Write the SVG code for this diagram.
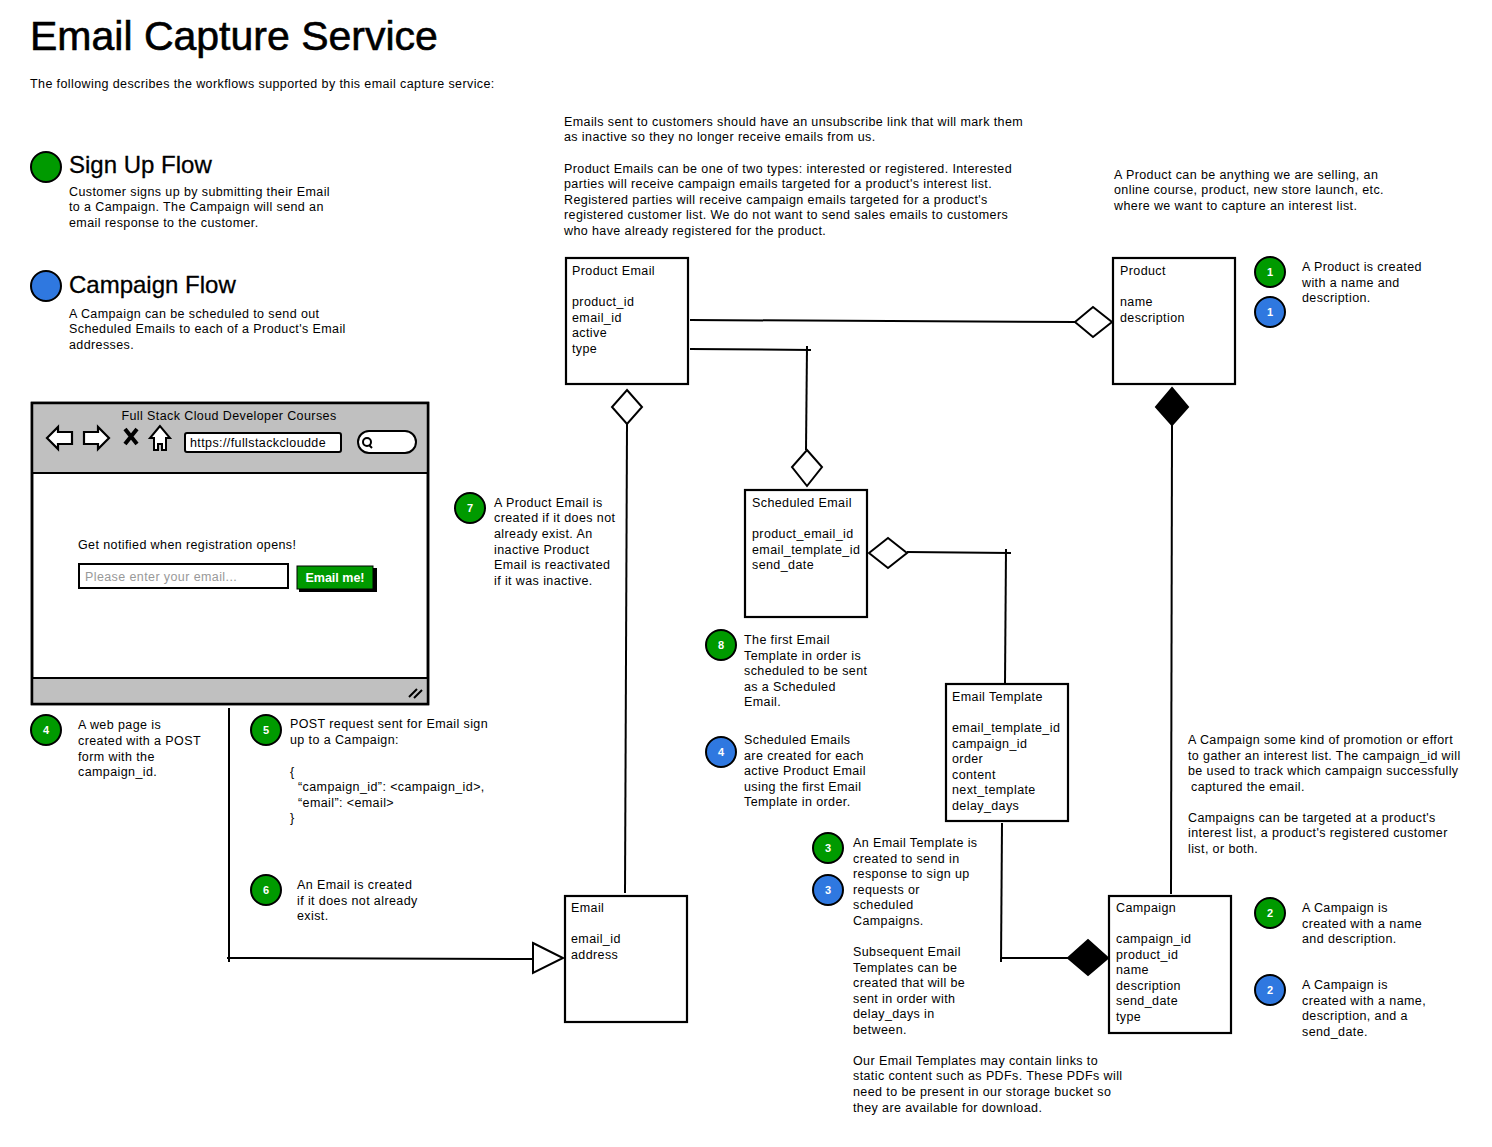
<svg xmlns="http://www.w3.org/2000/svg" width="1492" height="1147" viewBox="0 0 1492 1147">
<style>
.t{font-family:"Liberation Sans",Arial,sans-serif;font-size:12.5px;letter-spacing:0.4px;fill:#000}
.h{font-family:"Liberation Sans",Arial,sans-serif;fill:#000}
.box{fill:#fff;stroke:#000;stroke-width:2.2}
.ln{fill:none;stroke:#000;stroke-width:2}
.dh{fill:#fff;stroke:#000;stroke-width:2}
.df{fill:#000;stroke:#000;stroke-width:2}
.g{fill:#009a00;stroke:#000;stroke-width:2}
.b{fill:#2f78e0;stroke:#000;stroke-width:2}
.n{font-family:"Liberation Sans",Arial,sans-serif;font-size:11px;font-weight:bold;fill:#fff;text-anchor:middle}
</style>
<rect width="1492" height="1147" fill="#fff"/>

<g id="header">
<text class="h" x="30" y="50" font-size="41" stroke="#000" stroke-width="0.6">Email Capture Service</text>
<text class="t" x="30" y="88">The following describes the workflows supported by this email capture service:</text>
</g>

<g id="legend-signup">
<circle class="g" cx="46" cy="167" r="15"/>
<text class="h" x="69" y="173" font-size="24" stroke="#000" stroke-width="0.3">Sign Up Flow</text>
<text class="t"><tspan x="69" y="196">Customer signs up by submitting their Email</tspan><tspan x="69" y="211">to a Campaign. The Campaign will send an</tspan><tspan x="69" y="227">email response to the customer.</tspan></text>
</g>
<g id="legend-campaign">
<circle class="b" cx="46" cy="286" r="15"/>
<text class="h" x="69" y="293" font-size="24" stroke="#000" stroke-width="0.3">Campaign Flow</text>
<text class="t"><tspan x="69" y="318">A Campaign can be scheduled to send out</tspan><tspan x="69" y="333">Scheduled Emails to each of a Product's Email</tspan><tspan x="69" y="349">addresses.</tspan></text>
</g>

<g id="browser">
<rect x="32" y="403" width="396" height="301" fill="#fff" stroke="#000" stroke-width="2.5"/>
<rect x="33" y="404" width="394" height="69" fill="#c0c0c0"/>
<line x1="32" y1="473" x2="428" y2="473" stroke="#000" stroke-width="2"/>
<rect x="33" y="678" width="394" height="25" fill="#c0c0c0"/>
<line x1="32" y1="678" x2="428" y2="678" stroke="#000" stroke-width="2"/>
<rect x="32" y="403" width="396" height="301" fill="none" stroke="#000" stroke-width="2.5"/>
<text class="t" x="229" y="420" text-anchor="middle">Full Stack Cloud Developer Courses</text>
<polygon points="47,438 58,427 58,432 72,432 72,444 58,444 58,449" fill="#fff" stroke="#000" stroke-width="2.2"/>
<polygon points="109,438 98,427 98,432 84,432 84,444 98,444 98,449" fill="#fff" stroke="#000" stroke-width="2.2"/>
<path d="M125,429 L137,444 M137,429 L125,444" stroke="#000" stroke-width="4"/>
<polygon points="160,426 150,438 154,438 154,450 158,450 158,444 162,444 162,450 166,450 166,438 170,438" fill="#fff" stroke="#000" stroke-width="2"/>
<rect x="185" y="433" width="156" height="19" rx="2" fill="#fff" stroke="#000" stroke-width="2"/>
<text class="t" x="190" y="447">https://fullstackcloudde</text>
<rect x="358" y="431" width="58" height="22" rx="11" fill="#fff" stroke="#000" stroke-width="2"/>
<circle cx="367" cy="442" r="4" fill="none" stroke="#000" stroke-width="2"/>
<line x1="369" y1="445" x2="372" y2="448" stroke="#000" stroke-width="2"/>
<text class="t" x="78" y="549">Get notified when registration opens!</text>
<rect x="79" y="564" width="209" height="24" fill="#fff" stroke="#000" stroke-width="2"/>
<text class="t" x="85" y="581" style="fill:#999">Please enter your email...</text>
<rect x="299" y="568" width="78" height="24" fill="#000"/>
<rect x="297" y="566" width="76" height="23" fill="#009a00" stroke="#000" stroke-width="1"/>
<text class="h" x="335" y="582" font-size="12.5" font-weight="bold" text-anchor="middle" style="fill:#fff">Email me!</text>
<path d="M409,697 L417,689 M414,698 L422,690" stroke="#000" stroke-width="2"/>
</g>

<g id="connectors">
<path class="ln" d="M229,708 L229,962"/>
<path class="ln" d="M227,958 L533,959"/>
<polygon class="dh" points="533,943 563,958 533,973"/>
<path class="ln" d="M625,893 L627,424"/>
<polygon class="dh" points="627,390 642,407 627,424 612,407"/>
<path class="ln" d="M690,320 L1075,322"/>
<polygon class="dh" points="1075,322 1093,307 1112,322 1093,337"/>
<path class="ln" d="M690,349 L811,350"/>
<path class="ln" d="M807,346 L806,450"/>
<polygon class="dh" points="807,450 822,467 807,486 792,467"/>
<polygon class="dh" points="869,553 888,538 907,553 888,568"/>
<path class="ln" d="M907,552 L1011,553"/>
<path class="ln" d="M1006,549 L1005,683"/>
<path class="ln" d="M1002,823 L1001,962"/>
<path class="ln" d="M1001,958 L1068,958"/>
<polygon class="df" points="1068,958 1088,940 1108,958 1088,975"/>
<polygon class="df" points="1172,388 1188,407 1172,425 1156,407"/>
<path class="ln" d="M1172,425 L1171,894"/>
</g>

<g id="product-email">
<rect class="box" x="566" y="258" width="122" height="126"/>
<text class="t"><tspan x="572" y="275">Product Email</tspan><tspan x="572" y="306">product_id</tspan><tspan x="572" y="322">email_id</tspan><tspan x="572" y="337">active</tspan><tspan x="572" y="353">type</tspan></text>
</g>
<g id="product">
<rect class="box" x="1113" y="258" width="122" height="126"/>
<text class="t"><tspan x="1120" y="275">Product</tspan><tspan x="1120" y="306">name</tspan><tspan x="1120" y="322">description</tspan></text>
</g>
<g id="scheduled-email">
<rect class="box" x="745" y="490" width="122" height="127"/>
<text class="t"><tspan x="752" y="507">Scheduled Email</tspan><tspan x="752" y="538">product_email_id</tspan><tspan x="752" y="554">email_template_id</tspan><tspan x="752" y="569">send_date</tspan></text>
</g>
<g id="email-template">
<rect class="box" x="946" y="684" width="122" height="137"/>
<text class="t"><tspan x="952" y="701">Email Template</tspan><tspan x="952" y="732">email_template_id</tspan><tspan x="952" y="748">campaign_id</tspan><tspan x="952" y="763">order</tspan><tspan x="952" y="779">content</tspan><tspan x="952" y="794">next_template</tspan><tspan x="952" y="810">delay_days</tspan></text>
</g>
<g id="email">
<rect class="box" x="565" y="896" width="122" height="126"/>
<text class="t"><tspan x="571" y="912">Email</tspan><tspan x="571" y="943">email_id</tspan><tspan x="571" y="959">address</tspan></text>
</g>
<g id="campaign">
<rect class="box" x="1109" y="896" width="122" height="137"/>
<text class="t"><tspan x="1116" y="912">Campaign</tspan><tspan x="1116" y="943">campaign_id</tspan><tspan x="1116" y="959">product_id</tspan><tspan x="1116" y="974">name</tspan><tspan x="1116" y="990">description</tspan><tspan x="1116" y="1005">send_date</tspan><tspan x="1116" y="1021">type</tspan></text>
</g>

<g id="note-unsubscribe">
<text class="t"><tspan x="564" y="126">Emails sent to customers should have an unsubscribe link that will mark them</tspan><tspan x="564" y="141">as inactive so they no longer receive emails from us.</tspan><tspan x="564" y="173">Product Emails can be one of two types: interested or registered. Interested</tspan><tspan x="564" y="188">parties will receive campaign emails targeted for a product's interest list.</tspan><tspan x="564" y="204">Registered parties will receive campaign emails targeted for a product's</tspan><tspan x="564" y="219">registered customer list. We do not want to send sales emails to customers</tspan><tspan x="564" y="235">who have already registered for the product.</tspan></text>
</g>
<g id="note-product">
<text class="t"><tspan x="1114" y="179">A Product can be anything we are selling, an</tspan><tspan x="1114" y="194">online course, product, new store launch, etc.</tspan><tspan x="1114" y="210">where we want to capture an interest list.</tspan></text>
</g>
<g id="note-campaign">
<text class="t"><tspan x="1188" y="744">A Campaign some kind of promotion or effort</tspan><tspan x="1188" y="760">to gather an interest list. The campaign_id will</tspan><tspan x="1188" y="775">be used to track which campaign successfully</tspan><tspan x="1191" y="791">captured the email.</tspan><tspan x="1188" y="822">Campaigns can be targeted at a product's</tspan><tspan x="1188" y="837">interest list, a product's registered customer</tspan><tspan x="1188" y="853">list, or both.</tspan></text>
</g>

<g id="step-1">
<circle class="g" cx="1270" cy="272" r="15"/><text class="n" x="1270" y="276">1</text>
<circle class="b" cx="1270" cy="312" r="15"/><text class="n" x="1270" y="316">1</text>
<text class="t"><tspan x="1302" y="271">A Product is created</tspan><tspan x="1302" y="287">with a name and</tspan><tspan x="1302" y="302">description.</tspan></text>
</g>
<g id="step-2-green">
<circle class="g" cx="1270" cy="913" r="15"/><text class="n" x="1270" y="917">2</text>
<text class="t"><tspan x="1302" y="912">A Campaign is</tspan><tspan x="1302" y="928">created with a name</tspan><tspan x="1302" y="943">and description.</tspan></text>
</g>
<g id="step-2-blue">
<circle class="b" cx="1270" cy="990" r="15"/><text class="n" x="1270" y="994">2</text>
<text class="t"><tspan x="1302" y="989">A Campaign is</tspan><tspan x="1302" y="1005">created with a name,</tspan><tspan x="1302" y="1020">description, and a</tspan><tspan x="1302" y="1036">send_date.</tspan></text>
</g>
<g id="step-3">
<circle class="g" cx="828" cy="848" r="15"/><text class="n" x="828" y="852">3</text>
<circle class="b" cx="828" cy="890" r="15"/><text class="n" x="828" y="894">3</text>
<text class="t"><tspan x="853" y="847">An Email Template is</tspan><tspan x="853" y="863">created to send in</tspan><tspan x="853" y="878">response to sign up</tspan><tspan x="853" y="894">requests or</tspan><tspan x="853" y="909">scheduled</tspan><tspan x="853" y="925">Campaigns.</tspan><tspan x="853" y="956">Subsequent Email</tspan><tspan x="853" y="972">Templates can be</tspan><tspan x="853" y="987">created that will be</tspan><tspan x="853" y="1003">sent in order with</tspan><tspan x="853" y="1018">delay_days in</tspan><tspan x="853" y="1034">between.</tspan><tspan x="853" y="1065">Our Email Templates may contain links to</tspan><tspan x="853" y="1080">static content such as PDFs. These PDFs will</tspan><tspan x="853" y="1096">need to be present in our storage bucket so</tspan><tspan x="853" y="1112">they are available for download.</tspan></text>
</g>
<g id="step-4-green">
<circle class="g" cx="46" cy="730" r="15"/><text class="n" x="46" y="734">4</text>
<text class="t"><tspan x="78" y="729">A web page is</tspan><tspan x="78" y="745">created with a POST</tspan><tspan x="78" y="761">form with the</tspan><tspan x="78" y="776">campaign_id.</tspan></text>
</g>
<g id="step-4-blue">
<circle class="b" cx="721" cy="752" r="15"/><text class="n" x="721" y="756">4</text>
<text class="t"><tspan x="744" y="744">Scheduled Emails</tspan><tspan x="744" y="760">are created for each</tspan><tspan x="744" y="775">active Product Email</tspan><tspan x="744" y="791">using the first Email</tspan><tspan x="744" y="806">Template in order.</tspan></text>
</g>
<g id="step-5">
<circle class="g" cx="266" cy="730" r="15"/><text class="n" x="266" y="734">5</text>
<text class="t"><tspan x="290" y="728">POST request sent for Email sign</tspan><tspan x="290" y="744">up to a Campaign:</tspan><tspan x="290" y="776">{</tspan><tspan x="298" y="791">“campaign_id”: &lt;campaign_id&gt;,</tspan><tspan x="298" y="807">“email”: &lt;email&gt;</tspan><tspan x="290" y="822">}</tspan></text>
</g>
<g id="step-6">
<circle class="g" cx="266" cy="890" r="15"/><text class="n" x="266" y="894">6</text>
<text class="t"><tspan x="297" y="889">An Email is created</tspan><tspan x="297" y="905">if it does not already</tspan><tspan x="297" y="920">exist.</tspan></text>
</g>
<g id="step-7">
<circle class="g" cx="470" cy="508" r="15"/><text class="n" x="470" y="512">7</text>
<text class="t"><tspan x="494" y="507">A Product Email is</tspan><tspan x="494" y="522">created if it does not</tspan><tspan x="494" y="538">already exist. An</tspan><tspan x="494" y="554">inactive Product</tspan><tspan x="494" y="569">Email is reactivated</tspan><tspan x="494" y="585">if it was inactive.</tspan></text>
</g>
<g id="step-8">
<circle class="g" cx="721" cy="645" r="15"/><text class="n" x="721" y="649">8</text>
<text class="t"><tspan x="744" y="644">The first Email</tspan><tspan x="744" y="660">Template in order is</tspan><tspan x="744" y="675">scheduled to be sent</tspan><tspan x="744" y="691">as a Scheduled</tspan><tspan x="744" y="706">Email.</tspan></text>
</g>
</svg>
